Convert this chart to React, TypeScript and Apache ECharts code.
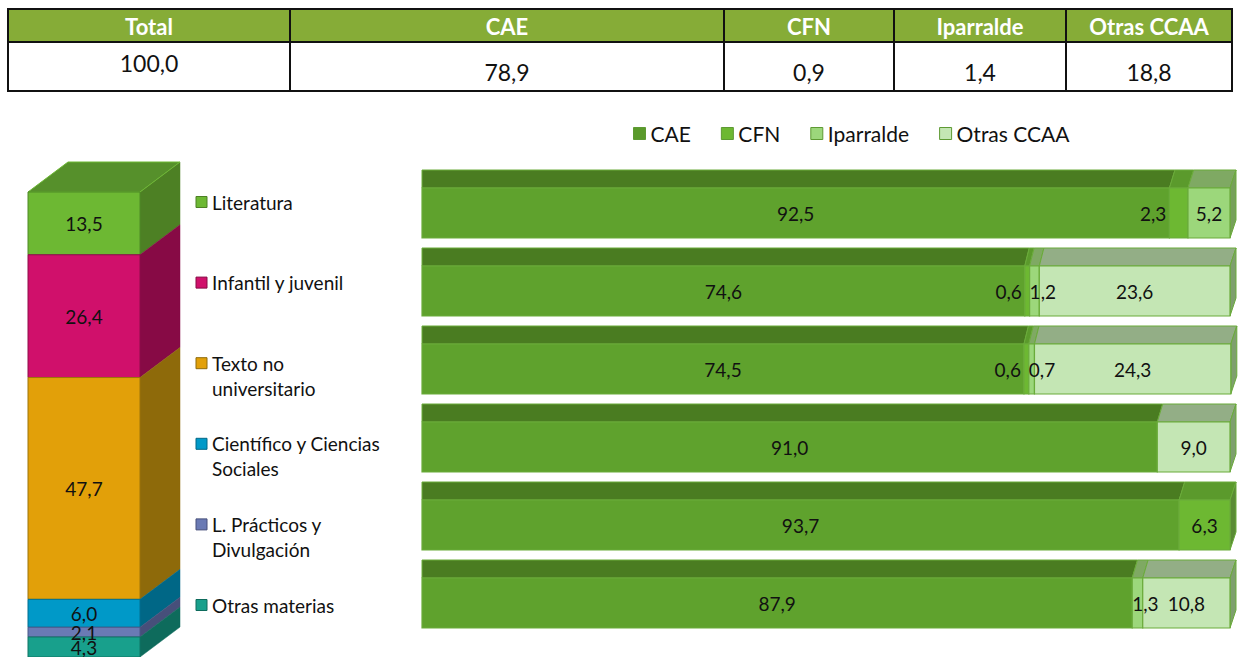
import React, { useEffect, useRef } from "react";
import * as echarts from "echarts";

// ---- Data ----
const tableHeaders = ["Total", "CAE", "CFN", "Iparralde", "Otras CCAA"];
const tableValues = ["100,0", "78,9", "0,9", "1,4", "18,8"];

const materias = [
  "Literatura",
  "Infantil y juvenil",
  "Texto no\nuniversitario",
  "Científico y Ciencias\nSociales",
  "L. Prácticos y\nDivulgación",
  "Otras materias",
];
const materiaShares = [13.5, 26.4, 47.7, 6.0, 2.1, 4.3];

const rowCategories = [
  "Literatura",
  "Infantil y juvenil",
  "Texto no universitario",
  "Científico y Ciencias Sociales",
  "L. Prácticos y Divulgación",
  "Otras materias",
];
const ambitos = ["CAE", "CFN", "Iparralde", "Otras CCAA"];
const caeValues = [92.5, 74.6, 74.5, 91.0, 93.7, 87.9];
const cfnValues = [2.3, 0.6, 0.6, 0, 6.3, 0];
const iparraldeValues = [5.2, 1.2, 0.7, 0, 0, 1.3];
const otrasValues = [0, 23.6, 24.3, 9.0, 0, 10.8];

// ---- Styles ----
const materiaColors = ["#6DB833", "#D0106B", "#E2A009", "#0099C8", "#6A7AB4", "#18A08C"];
const materiaSideColors = ["#4D8024", "#870A45", "#8E6A0A", "#006786", "#474F7A", "#0E6B5C"];
const materiaBorder = ["#4E8A26", "#8E0C4A", "#9C750A", "#006F90", "#4B5888", "#0F7565"];
const ambitoFront = ["#5FA22D", "#6DB832", "#9CD77B", "#C4E6B4"];
const ambitoTop = ["#4A7C21", "#5B9A2C", "#7FA963", "#93AE86"];
const ambitoSide = ["#4E7F2A", "#5A8B35", "#76A05A", "#7E9F6E"];
const ambitoLegend = ["#5A9A2B", "#6DB832", "#9CD77B", "#C4E6B4"];
const FONT = "Lato, 'Open Sans', sans-serif";

const fmt = (v: number) => v.toFixed(1).replace(".", ",");

export default function App() {
  const ref = useRef<HTMLDivElement>(null);

  useEffect(() => {
    document.body.style.margin = "0";
    const chart = echarts.init(ref.current!, null, { renderer: "svg" });

    const ambitoValues = [caeValues, cfnValues, iparraldeValues, otrasValues];
    const starts = ambitoValues.map((vals, k) =>
      vals.map((_, i) => ambitoValues.slice(0, k).reduce((a, arr) => a + arr[i], 0))
    );

    const X0 = 422;
    const XW = 808;
    const PERSP = 6 / XW;
    const DEPTH = 18;
    const BAR_H = 50;
    const back = (x: number) => x + PERSP * (x - X0);
    const edge = "#6AAB3A";
    const labelFont = `19px ${FONT}`;

    const barSeries = ambitoValues.map((vals, k) => ({
      type: "custom",
      name: ambitos[k],
      xAxisIndex: 0,
      yAxisIndex: 0,
      itemStyle: { color: ambitoLegend[k], borderColor: "#5E9A33" },
      encode: { x: [0, 1], y: 2 },
      data: vals.map((v, i) => [starts[k][i], starts[k][i] + v, i, v]),
      renderItem: (params: any, api: any) => {
        const v = api.value(3);
        if (!v) return null;
        const s = api.value(0);
        const e = api.value(1);
        const row = api.value(2);
        const pS = api.coord([s, row]);
        const pE = api.coord([e, row]);
        const xs = pS[0];
        const xe = pE[0];
        const yc = pS[1];
        const yt = yc - BAR_H / 2;
        const yb = yc + BAR_H / 2;
        const children: any[] = [];
        children.push({
          type: "polygon",
          shape: { points: [[xs, yt], [back(xs), yt - DEPTH], [back(xe), yt - DEPTH], [xe, yt]] },
          style: { fill: ambitoTop[k], stroke: edge, lineWidth: 1 },
        });
        if (e >= 99.95) {
          children.push({
            type: "polygon",
            shape: { points: [[xe, yt], [back(xe), yt - DEPTH], [back(xe), yb - DEPTH], [xe, yb]] },
            style: { fill: ambitoSide[k], stroke: edge, lineWidth: 1 },
          });
        }
        children.push({
          type: "rect",
          shape: { x: xs, y: yt, width: xe - xs, height: BAR_H },
          style: { fill: ambitoFront[k], stroke: edge, lineWidth: 1.2 },
        });
        const w = xe - xs;
        let tx = (xs + xe) / 2;
        let align = "center";
        if (w < 28) {
          if (k === 1) {
            tx = xs - 3;
            align = "right";
          } else {
            tx = xs;
            align = "left";
          }
        }
        children.push({
          type: "text",
          style: {
            x: tx,
            y: yc,
            text: fmt(v),
            align,
            verticalAlign: "middle",
            fill: "#111",
            font: labelFont,
          },
          z2: 10,
        });
        return { type: "group", children };
      },
    }));

    const cum = materiaShares.map((_, i) => materiaShares.slice(0, i).reduce((a, b) => a + b, 0));
    const SDX = 40;
    const SDY = -30;
    const columnSeries = {
      type: "custom",
      name: "Materias",
      xAxisIndex: 1,
      yAxisIndex: 1,
      encode: { x: 0, y: [1, 2] },
      data: materiaShares.map((v, i) => [0, cum[i], cum[i] + v, v, i]),
      renderItem: (params: any, api: any) => {
        const i = api.value(4);
        const v = api.value(3);
        const pT = api.coord([0, api.value(1)]);
        const pB = api.coord([0, api.value(2)]);
        const w = api.size([1, 0])[0];
        const x0 = pT[0] - w / 2;
        const x1 = x0 + w;
        const yt = pT[1];
        const yb = pB[1];
        const children: any[] = [];
        children.push({
          type: "polygon",
          shape: { points: [[x1, yt], [x1 + SDX, yt + SDY], [x1 + SDX, yb + SDY], [x1, yb]] },
          style: { fill: materiaSideColors[i], stroke: materiaSideColors[i], lineWidth: 0.5 },
        });
        if (i === 0) {
          children.push({
            type: "polygon",
            shape: { points: [[x0, yt], [x0 + SDX, yt + SDY], [x1 + SDX, yt + SDY], [x1, yt]] },
            style: { fill: "#56902B", stroke: "#6DB833", lineWidth: 1 },
          });
        }
        children.push({
          type: "rect",
          shape: { x: x0, y: yt, width: w, height: yb - yt },
          style: { fill: materiaColors[i], stroke: materiaBorder[i], lineWidth: 1 },
        });
        children.push({
          type: "text",
          style: {
            x: (x0 + x1) / 2,
            y: (yt + yb) / 2,
            text: fmt(v),
            align: "center",
            verticalAlign: "middle",
            fill: "#111",
            font: labelFont,
          },
          z2: 10,
        });
        return { type: "group", children };
      },
    };

    // Table graphic
    const colEdges = [8, 290, 724, 894, 1066, 1232];
    const tableTop = 9;
    const headerBottom = 42;
    const tableBottom = 91;
    const graphics: any[] = [];
    graphics.push({
      type: "rect",
      shape: { x: colEdges[0], y: tableTop, width: colEdges[5] - colEdges[0], height: headerBottom - tableTop },
      style: { fill: "#86AC37" },
    });
    graphics.push({
      type: "rect",
      shape: { x: colEdges[0], y: tableTop, width: colEdges[5] - colEdges[0], height: tableBottom - tableTop },
      style: { fill: "none", stroke: "#111", lineWidth: 2 },
    });
    graphics.push({
      type: "line",
      shape: { x1: colEdges[0], y1: headerBottom, x2: colEdges[5], y2: headerBottom },
      style: { stroke: "#111", lineWidth: 2 },
    });
    for (let c = 1; c < colEdges.length - 1; c++) {
      graphics.push({
        type: "line",
        shape: { x1: colEdges[c], y1: tableTop, x2: colEdges[c], y2: tableBottom },
        style: { stroke: "#111", lineWidth: 2 },
      });
    }
    tableHeaders.forEach((h, c) => {
      const cx = (colEdges[c] + colEdges[c + 1]) / 2;
      graphics.push({
        type: "text",
        style: {
          x: cx,
          y: 26,
          text: h,
          align: "center",
          verticalAlign: "middle",
          fill: "#fff",
          font: `bold 22px ${FONT}`,
        },
      });
      graphics.push({
        type: "text",
        style: {
          x: cx,
          y: c === 0 ? 63 : 72,
          text: tableValues[c],
          align: "center",
          verticalAlign: "middle",
          fill: "#111",
          font: `23px ${FONT}`,
        },
      });
    });

    // Left legend
    materias.forEach((m, i) => {
      const y = 202 + i * 80.6;
      graphics.push({
        type: "rect",
        shape: { x: 196, y: y - 5.5, width: 11, height: 11 },
        style: { fill: materiaColors[i], stroke: materiaSideColors[i], lineWidth: 1 },
      });
      graphics.push({
        type: "text",
        style: {
          x: 212,
          y: y - 12.5,
          text: m,
          align: "left",
          verticalAlign: "top",
          lineHeight: 25,
          fill: "#111",
          font: `19px ${FONT}`,
        },
      });
    });

    chart.setOption({
      animation: false,
      backgroundColor: "#fff",
      legend: {
        data: ambitos.map((n, k) => ({
          name: n,
          icon: "rect",
          itemStyle: { color: ambitoLegend[k], borderColor: "#5E9A33", borderWidth: 1 },
        })),
        left: 633,
        top: 123,
        padding: 0,
        itemWidth: 12,
        itemHeight: 12,
        itemGap: 30,
        selectedMode: false,
        textStyle: { fontFamily: FONT, fontSize: 21, color: "#111" },
      },
      grid: [
        { left: X0, width: XW, top: 174, height: 468 },
        { left: 28, width: 112, top: 192, height: 467 },
      ],
      xAxis: [
        { type: "value", gridIndex: 0, min: 0, max: 100, show: false },
        { type: "category", gridIndex: 1, data: ["Total"], show: false },
      ],
      yAxis: [
        { type: "category", gridIndex: 0, data: rowCategories, inverse: true, show: false },
        { type: "value", gridIndex: 1, min: 0, max: 100, inverse: true, show: false },
      ],
      graphic: graphics,
      series: [...barSeries, columnSeries],
    });

    return () => chart.dispose();
  }, []);

  return <div ref={ref} style={{ width: 1242, height: 657 }} />;
}
